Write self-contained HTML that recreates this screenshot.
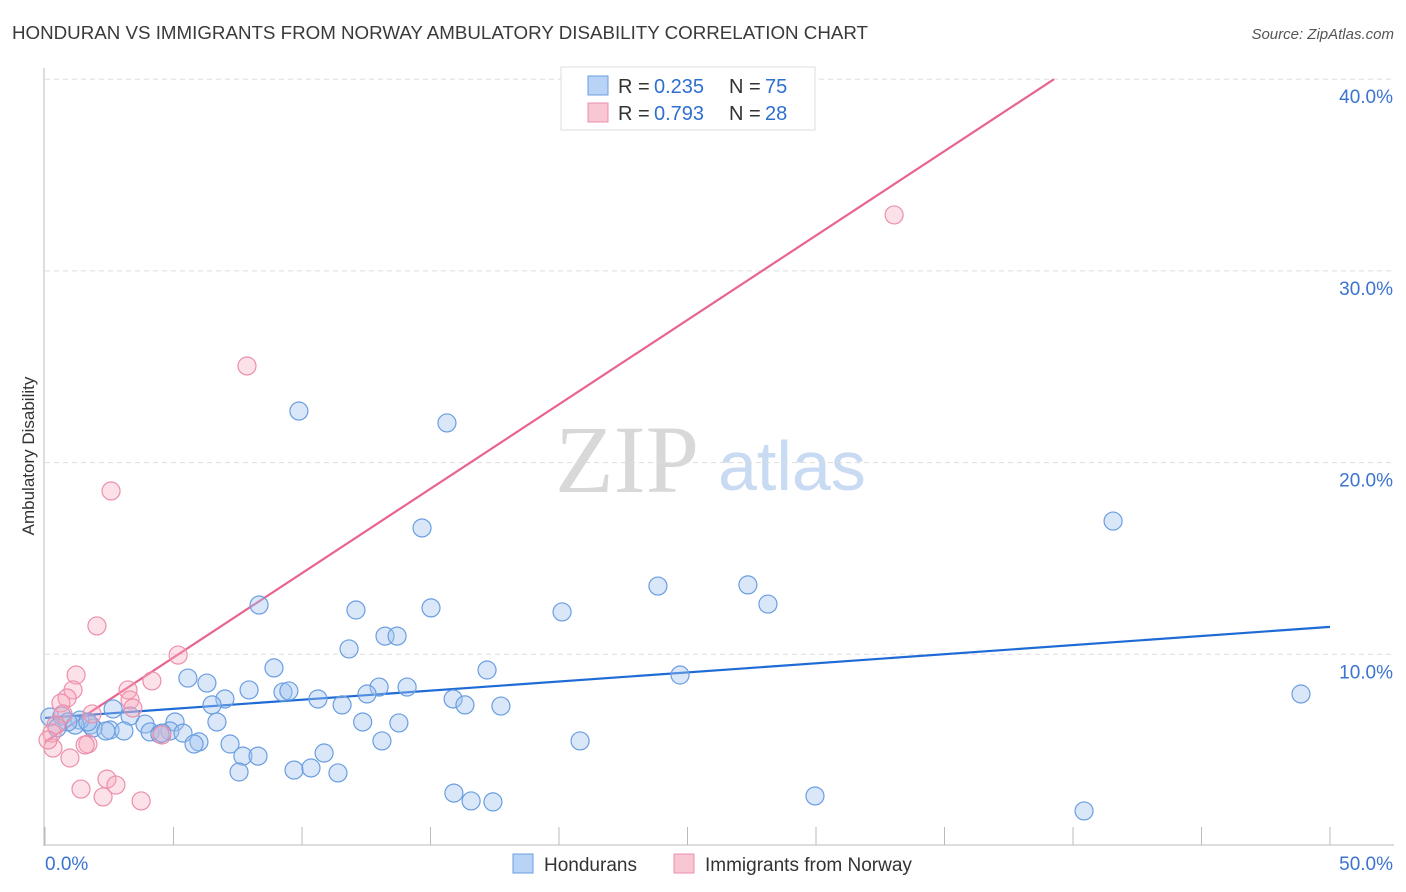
<!DOCTYPE html>
<html><head><meta charset="utf-8"><style>
body{margin:0;background:#fff;font-family:"Liberation Sans",sans-serif;}
svg{display:block}
</style></head><body>
<svg id="chart" width="1406" height="892" xmlns="http://www.w3.org/2000/svg" font-family="Liberation Sans, sans-serif">
<text x="12" y="39" font-size="18.5" fill="#3a3a3a" textLength="856" lengthAdjust="spacingAndGlyphs">HONDURAN VS IMMIGRANTS FROM NORWAY AMBULATORY DISABILITY CORRELATION CHART</text>
<text x="1394" y="39" font-size="15" fill="#555" text-anchor="end" font-style="italic">Source: ZipAtlas.com</text>
<text transform="translate(34,456) rotate(-90)" font-size="17" fill="#333" text-anchor="middle">Ambulatory Disability</text>
<g>
<text x="555" y="492" font-size="96" fill="#d8d8d8" font-family="Liberation Serif, serif">ZIP</text>
<text x="718" y="490" font-size="70" fill="#c9daf3">atlas</text>
</g>
<g id="grid"></g>
<g id="axes"></g>
<g id="trend"></g>
<g id="points"></g>
<g>
<rect x="561" y="67" width="254" height="63" fill="#fff" stroke="#ddd"/>
<rect x="588" y="76" width="20" height="19" fill="#b8d3f5" stroke="#6a9ee0"/>
<text x="618" y="93" font-size="20" fill="#333">R =</text>
<text x="654" y="93" font-size="20" fill="#2f6fd0">0.235</text>
<text x="729" y="93" font-size="20" fill="#333">N =</text>
<text x="765" y="93" font-size="20" fill="#2f6fd0">75</text>
<rect x="588" y="103" width="20" height="19" fill="#f9c6d4" stroke="#ec8fab"/>
<text x="618" y="120" font-size="20" fill="#333">R =</text>
<text x="654" y="120" font-size="20" fill="#2f6fd0">0.793</text>
<text x="729" y="120" font-size="20" fill="#333">N =</text>
<text x="765" y="120" font-size="20" fill="#2f6fd0">28</text>
</g>
<g>
<rect x="513" y="854" width="20" height="19" fill="#b8d3f5" stroke="#6a9ee0"/>
<text x="544" y="871" font-size="19" fill="#333">Hondurans</text>
<rect x="674" y="854" width="20" height="19" fill="#f9c6d4" stroke="#ec8fab"/>
<text x="705" y="871" font-size="19" fill="#333">Immigrants from Norway</text>
</g>
</svg>
<script>
const blueX=[9.88,15.64,14.67,41.56,8.33,12.10,15.02,20.12,23.85,27.35,28.13,13.23,13.70,11.83,8.91,17.20,24.71,48.87,5.56,6.30,7.94,9.26,9.49,13.00,14.09,12.53,7.00,6.50,10.62,11.56,15.88,16.34,17.74,2.65,3.31,5.06,6.69,12.36,13.77,3.89,1.77,2.53,4.09,4.86,5.37,4.47,3.07,1.87,2.37,1.36,0.19,0.66,1.17,0.89,0.47,5.99,5.80,7.20,13.11,20.82,7.70,8.29,10.86,7.55,9.69,10.35,11.40,15.91,16.58,17.43,29.96,40.43,4.55,1.67];
const blueY=[22.69,22.07,16.59,16.95,12.57,12.31,12.42,12.21,13.56,13.62,12.62,10.95,10.95,10.28,9.29,9.18,8.92,7.93,8.76,8.50,8.14,8.03,8.09,8.29,8.29,7.93,7.67,7.36,7.67,7.36,7.67,7.36,7.30,7.15,6.78,6.47,6.47,6.47,6.42,6.36,6.31,6.05,5.95,6.00,5.89,5.84,6.00,6.16,6.00,6.57,6.73,6.78,6.31,6.47,6.16,5.43,5.32,5.32,5.48,5.48,4.69,4.69,4.85,3.86,3.96,4.07,3.81,2.76,2.35,2.30,2.61,1.83,5.89,6.47];
const pinkX=[33.04,7.86,2.57,2.02,5.18,1.21,4.16,1.09,0.86,0.62,3.23,3.31,3.42,1.83,0.70,0.43,0.27,1.67,1.56,0.31,0.97,4.55,2.41,2.76,1.40,2.26,3.74,0.12];
const pinkY=[32.92,25.04,18.52,11.48,9.96,8.92,8.61,8.14,7.72,7.46,8.14,7.62,7.20,6.89,6.89,6.31,5.89,5.32,5.27,5.11,4.59,5.79,3.49,3.18,2.97,2.56,2.35,5.53];
const blueTrend=[[0,6.68],[50,11.43]];
const pinkTrend=[[0,5.43],[39.26,40.0]];
const yTicks=[10,20,30,40];
const yTickLabels=["10.0%","20.0%","30.0%","40.0%"];
const xTicks=[0,5,10,15,20,25,30,35,40,45,50];
const NS="http://www.w3.org/2000/svg";
const X=v=>45+v*25.7, Y=v=>846-v*19.17;
function mk(tag,attrs,parent){const e=document.createElementNS(NS,tag);for(const k in attrs)e.setAttribute(k,attrs[k]);document.getElementById(parent).appendChild(e);return e;}
yTicks.forEach((t,i)=>{
 const l=mk('line',{x1:45,x2:1394,y1:Y(t),y2:Y(t),stroke:'#ddd','stroke-dasharray':'5,4'},'grid');
 
 
 const tx=mk('text',{x:1393,y:Y(t)+24,'font-size':19,fill:'#3b73d0','text-anchor':'end'},'grid');
 tx.textContent=yTickLabels[i];
 
 
});
const ya=mk('line',{x1:44,x2:44,y1:68,y2:846,stroke:'#bbb'},'axes');


const xa=mk('line',{x1:44,x2:1394,y1:845,y2:845,stroke:'#bbb'},'axes');


xTicks.forEach(t=>{
 const l=mk('line',{x1:X(t),x2:X(t),y1:827,y2:845,stroke:'#bbb'},'axes');
 
 
});
const x0=mk('text',{x:45,y:870,'font-size':19,fill:'#3b73d0'},'axes');x0.textContent='0.0%';


const x1=mk('text',{x:1393,y:870,'font-size':19,fill:'#3b73d0','text-anchor':'end'},'axes');x1.textContent='50.0%';


blueX.forEach((v,i)=>{
 const c=mk('circle',{cx:X(v),cy:Y(blueY[i]),r:9,fill:'rgba(160,196,240,0.4)',stroke:'#6a9ee0','stroke-width':1.2},'points');
 
 
});
pinkX.forEach((v,i)=>{
 const c=mk('circle',{cx:X(v),cy:Y(pinkY[i]),r:9,fill:'rgba(245,170,190,0.35)',stroke:'#ec8fab','stroke-width':1.2},'points');
 
 
});
const bl=mk('line',{x1:X(blueTrend[0][0]),y1:Y(blueTrend[0][1]),x2:X(blueTrend[1][0]),y2:Y(blueTrend[1][1]),stroke:'#1f6bd6','stroke-width':2.2},'trend');


const pl=mk('line',{x1:X(pinkTrend[0][0]),y1:Y(pinkTrend[0][1]),x2:X(pinkTrend[1][0]),y2:Y(pinkTrend[1][1]),stroke:'#e8648e','stroke-width':2.2},'trend');


</script>
</body></html>
